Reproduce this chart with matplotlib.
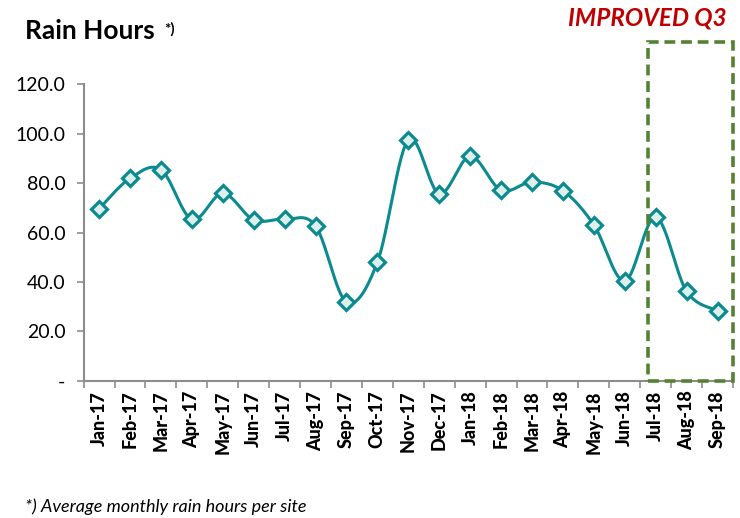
import numpy as np
import matplotlib.pyplot as plt
from matplotlib.patches import Rectangle

MONTHS = ["Jan-17", "Feb-17", "Mar-17", "Apr-17", "May-17", "Jun-17", "Jul-17",
          "Aug-17", "Sep-17", "Oct-17", "Nov-17", "Dec-17", "Jan-18", "Feb-18",
          "Mar-18", "Apr-18", "May-18", "Jun-18", "Jul-18", "Aug-18", "Sep-18"]
RAIN_HOURS = [69.6, 81.9, 85.4, 65.3, 75.8, 65.1, 65.4, 62.7, 31.9, 48.0, 97.4,
              75.7, 90.8, 77.1, 80.4, 76.9, 63.1, 40.4, 66.2, 36.2, 28.4]
Y_TICKS = [0, 20, 40, 60, 80, 100, 120]
Y_LABELS = ["-", "20.0", "40.0", "60.0", "80.0", "100.0", "120.0"]
HIGHLIGHT_START = "Jul-18"

TEAL = "#0b8a90"
GREEN = "#548235"
GRAY = "#8c8c8c"

plt.rcParams["font.family"] = ["Lato", "DejaVu Sans"]


def smooth_curve(xs, ys, steps=30):
    # Excel-style smoothed line: cubic Bezier with Catmull-Rom control points
    xs = np.asarray(xs, dtype=float)
    ys = np.asarray(ys, dtype=float)
    px = np.concatenate([[xs[0]], xs, [xs[-1]]])
    py = np.concatenate([[ys[0]], ys, [ys[-1]]])
    out_x, out_y = [], []
    t = np.linspace(0, 1, steps)
    for i in range(1, len(px) - 2):
        p0 = np.array([px[i], py[i]])
        p3 = np.array([px[i + 1], py[i + 1]])
        c1 = p0 + (np.array([px[i + 1], py[i + 1]]) - np.array([px[i - 1], py[i - 1]])) / 6
        c2 = p3 - (np.array([px[i + 2], py[i + 2]]) - np.array([px[i], py[i]])) / 6
        b = ((1 - t) ** 3)[:, None] * p0 + (3 * (1 - t) ** 2 * t)[:, None] * c1 \
            + (3 * (1 - t) * t ** 2)[:, None] * c2 + (t ** 3)[:, None] * p3
        out_x.extend(b[:, 0])
        out_y.extend(b[:, 1])
    return np.array(out_x), np.array(out_y)


fig = plt.figure(figsize=(7.4, 5.18), dpi=100)
ax = fig.add_axes([0.113, 0.2645, 0.8775, 0.5733])

x = np.arange(len(MONTHS))
sx, sy = smooth_curve(x, RAIN_HOURS)
ax.plot(sx, sy, color=TEAL, linewidth=2.2, zorder=3)
ax.plot(x, RAIN_HOURS, linestyle="none", marker="D", markersize=8.5,
        markerfacecolor="#dcefea", markeredgecolor=TEAL, markeredgewidth=2.3, zorder=4)

ax.set_xlim(-0.5, len(MONTHS) - 0.5)
ax.set_ylim(0, 120)
ax.set_yticks(Y_TICKS)
ax.set_yticklabels(Y_LABELS, fontsize=14)
ax.set_xticks(x)
ax.set_xticklabels(MONTHS, rotation=90, fontsize=13, fontweight="black")
ax.tick_params(axis="x", length=0, pad=7)
ax.set_xticks(np.arange(-0.5, len(MONTHS)), minor=True)
ax.tick_params(axis="x", which="minor", length=5, color=GRAY, width=1.2)
ax.tick_params(axis="y", length=5, color=GRAY, width=1.2, pad=8)

for side in ["top", "right"]:
    ax.spines[side].set_visible(False)
for side in ["left", "bottom"]:
    ax.spines[side].set_color(GRAY)
    ax.spines[side].set_linewidth(1.5)

start = MONTHS.index(HIGHLIGHT_START)
rect = Rectangle((start - 0.26, 0), len(MONTHS) - 0.5 - (start - 0.26), 137,
                 fill=False, edgecolor=GREEN, linewidth=2.6, linestyle=(0, (3, 1.6)),
                 clip_on=False, zorder=5)
ax.add_patch(rect)

fig.text(0.034, 0.941, "Rain Hours", fontsize=19, fontweight="bold", va="center")
fig.text(0.222, 0.944, "*)", fontsize=11, fontweight="bold", va="center")
fig.text(0.982, 0.965, "IMPROVED Q3", fontsize=17.5, fontweight="bold", style="italic",
         color="#c00000", ha="right", va="center")
fig.text(0.034, 0.022, "*) Average monthly rain hours per site", fontsize=13,
         style="italic", va="center")

fig.savefig("out.png", dpi=100)
